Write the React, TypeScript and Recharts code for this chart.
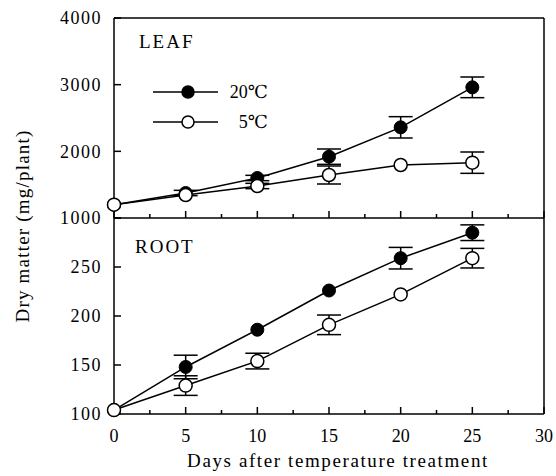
import { LineChart, Line, XAxis, YAxis, ErrorBar, Legend } from "recharts";

const days = [0, 5, 10, 15, 20, 25];

// LEAF panel (mg/plant)
const leaf20 = [1200, 1375, 1600, 1920, 2360, 2960];
const leaf20Err = [0, 40, 40, 115, 160, 155];
const leaf5 = [1200, 1345, 1480, 1645, 1795, 1830];
const leaf5Err = [0, 0, 40, 135, 0, 160];

// ROOT panel (mg/plant)
const root20 = [104, 148, 186, 226, 259, 285];
const root20Err = [0, 12, 0, 0, 11, 8];
const root5 = [104, 129, 154, 191, 222, 259];
const root5Err = [0, 10, 8, 10, 0, 10];

const xTicks = [0, 2.5, 5, 7.5, 10, 12.5, 15, 17.5, 20, 22.5, 25, 27.5, 30];
const leafTicks = [1000, 2000, 3000, 4000];
const leafLabels = [1000, 2000, 3000, 4000];
const rootTicks = [100, 150, 200, 250, 300];
const rootLabels = [100, 150, 200, 250];

const seriesNames = ["20℃", "5℃"];

const FONT = "Liberation Serif, Times New Roman, DejaVu Serif, serif";
const INK = "#000";
const txt = (size: number, spacing = 0) => ({ fontFamily: FONT, fontSize: size, letterSpacing: spacing });

const leafData = days.map((d, i) => ({ day: d, c20: leaf20[i], e20: leaf20Err[i], c5: leaf5[i], e5: leaf5Err[i] }));
const rootData = days.map((d, i) => ({ day: d, c20: root20[i], e20: root20Err[i], c5: root5[i], e5: root5Err[i] }));

// plot box in page pixels: x 114..544, LEAF y 18..218, ROOT y 218..414
const W = 556;
const H = 476;

function BottomTick(props: any) {
  const { x, y, payload, showLabels } = props;
  const v = payload.value;
  const major = v % 5 === 0;
  return (
    <g>
      <line x1={x} x2={x} y1={y} y2={y - (major ? 7 : 4)} stroke={INK} strokeWidth={1.5} />
      {showLabels && major ? (
        <text x={x} y={y + 28} textAnchor="middle" style={txt(18)} fill={INK}>
          {v}
        </text>
      ) : null}
    </g>
  );
}

function LeftTick(props: any) {
  const { x, y, payload, labels } = props;
  const v = payload.value;
  return (
    <g>
      <line x1={x} x2={x + 7} y1={y} y2={y} stroke={INK} strokeWidth={1.5} />
      {labels.includes(v) ? (
        <text x={x - 12} y={y} dy="0.35em" textAnchor="end" style={txt(18, 1.5)} fill={INK}>
          {v}
        </text>
      ) : null}
    </g>
  );
}

function RightTick(props: any) {
  const { x, y } = props;
  return <line x1={x} x2={x - 7} y1={y} y2={y} stroke={INK} strokeWidth={1.5} />;
}

function LegendBox() {
  return (
    <svg width={125} height={62} style={{ display: "block", overflow: "visible" }}>
      {seriesNames.map((name, i) => {
        const cy = 12 + i * 30;
        return (
          <g key={name}>
            <line x1={0} x2={65} y1={cy} y2={cy} stroke={INK} strokeWidth={1.5} />
            <circle cx={35} cy={cy} r={6} fill={i === 0 ? INK : "#fff"} stroke={INK} strokeWidth={1.5} />
            <text x={115} y={cy} dy="0.35em" textAnchor="end" style={txt(18)} fill={INK}>
              {name}
            </text>
          </g>
        );
      })}
    </svg>
  );
}

type PanelProps = {
  data: typeof leafData;
  domain: [number, number];
  ticks: number[];
  labels: number[];
  top: boolean;
};

function Panel({ data, domain, ticks, labels, top }: PanelProps) {
  const margin = top
    ? { top: 17, right: 11, bottom: 257, left: 54 }
    : { top: 218, right: 11, bottom: 61, left: 54 };
  return (
    <div style={{ position: "absolute", left: 0, top: 0 }}>
      <LineChart width={W} height={H} data={data} margin={margin}>
        <XAxis
          dataKey="day"
          type="number"
          domain={[0, 30]}
          ticks={xTicks}
          interval={0}
          height={1}
          tickSize={0}
          tickMargin={0}
          axisLine={{ stroke: INK, strokeWidth: 1.5 }}
          tickLine={false}
          tick={<BottomTick showLabels={!top} />}
        />
        {top ? (
          <XAxis
            xAxisId="t"
            dataKey="day"
            type="number"
            orientation="top"
            domain={[0, 30]}
            height={1}
            axisLine={{ stroke: INK, strokeWidth: 1.5 }}
            tick={false}
            tickLine={false}
          />
        ) : null}
        <YAxis
          type="number"
          domain={domain}
          ticks={ticks}
          interval={0}
          width={60}
          tickSize={0}
          tickMargin={0}
          axisLine={{ stroke: INK, strokeWidth: 1.5 }}
          tickLine={false}
          tick={<LeftTick labels={labels} />}
        />
        <YAxis
          yAxisId="r"
          orientation="right"
          type="number"
          domain={domain}
          ticks={ticks}
          interval={0}
          width={1}
          tickSize={0}
          tickMargin={0}
          axisLine={{ stroke: INK, strokeWidth: 1.5 }}
          tickLine={false}
          tick={<RightTick />}
        />
        {top ? (
          <Legend
            layout="vertical"
            align="center"
            verticalAlign="middle"
            wrapperStyle={{ left: 153, top: 80, width: 125, height: 62 }}
            content={() => <LegendBox />}
          />
        ) : null}
        <Line dataKey="c20" type="linear" stroke={INK} strokeWidth={1.5} dot={false} activeDot={false} isAnimationActive={false}>
          <ErrorBar dataKey="e20" width={12} stroke={INK} strokeWidth={1.5} />
        </Line>
        <Line dataKey="c5" type="linear" stroke={INK} strokeWidth={1.5} dot={false} activeDot={false} isAnimationActive={false}>
          <ErrorBar dataKey="e5" width={12} stroke={INK} strokeWidth={1.5} />
        </Line>
      </LineChart>
    </div>
  );
}

// markers drawn in a separate chart on top, so the open circles cover the error bars
function Markers({ data, domain, top }: { data: typeof leafData; domain: [number, number]; top: boolean }) {
  const margin = top
    ? { top: 18, right: 12, bottom: 258, left: 114 }
    : { top: 218, right: 12, bottom: 62, left: 114 };
  return (
    <div style={{ position: "absolute", left: 0, top: 0 }}>
      <LineChart width={W} height={H} data={data} margin={margin}>
        <XAxis dataKey="day" type="number" domain={[0, 30]} hide />
        <YAxis type="number" domain={domain} hide />
        <Line
          dataKey="c20"
          name={seriesNames[0]}
          type="linear"
          stroke="none"
          dot={{ r: 6.5, fill: INK, stroke: INK, strokeWidth: 1 }}
          activeDot={false}
          isAnimationActive={false}
        />
        <Line
          dataKey="c5"
          name={seriesNames[1]}
          type="linear"
          stroke="none"
          dot={{ r: 6.5, fill: "#fff", stroke: INK, strokeWidth: 1.5 }}
          activeDot={false}
          isAnimationActive={false}
        />
      </LineChart>
    </div>
  );
}

export default function App() {
  return (
    <div style={{ position: "absolute", left: 0, top: 0, width: W, height: H, background: "#fff" }}>
      <Panel data={rootData} domain={[100, 300]} ticks={rootTicks} labels={rootLabels} top={false} />
      <Panel data={leafData} domain={[1000, 4000]} ticks={leafTicks} labels={leafLabels} top={true} />
      <Markers data={rootData} domain={[100, 300]} top={false} />
      <Markers data={leafData} domain={[1000, 4000]} top={true} />
      <svg width={W} height={H} style={{ position: "absolute", left: 0, top: 0, pointerEvents: "none" }}>
        <text x={139} y={48} style={txt(19, 2)} fill={INK}>LEAF</text>
        <text x={135} y={253} style={txt(19, 2)} fill={INK}>ROOT</text>
        <text x={29} y={226} transform="rotate(-90 29 226)" textAnchor="middle" style={txt(19, 1.2)} fill={INK}>
          Dry matter (mg/plant)
        </text>
        <text x={338} y={467} textAnchor="middle" style={txt(19, 1.6)} fill={INK}>
          Days after temperature treatment
        </text>
      </svg>
    </div>
  );
}
